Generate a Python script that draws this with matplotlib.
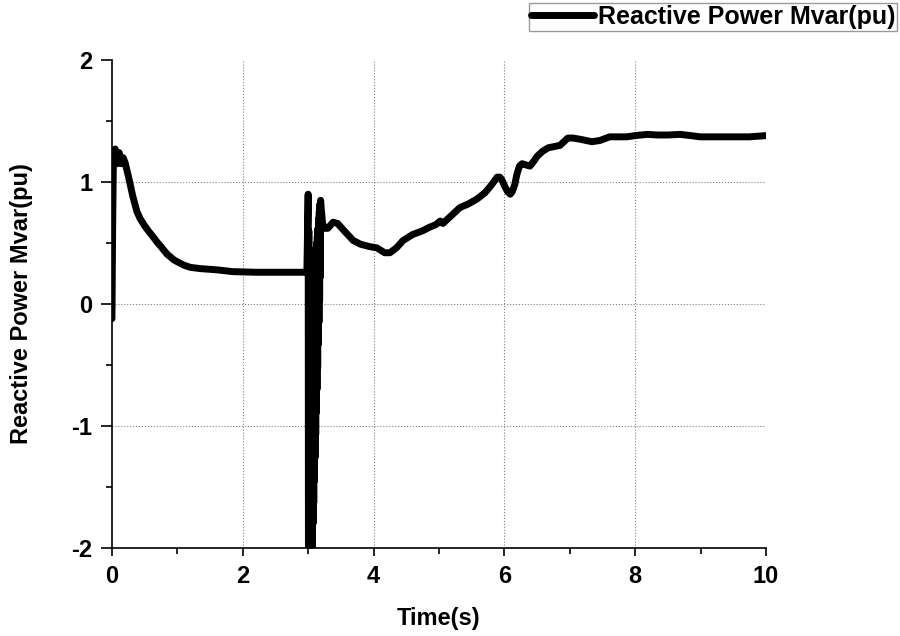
import matplotlib
matplotlib.use('Agg')
import matplotlib.pyplot as plt
import numpy as np
from matplotlib.ticker import MultipleLocator

# Reactive power trace (time in s, value in pu)
t_start = [0.0, 0.01, 0.02, 0.035, 0.05, 0.08, 0.11, 0.14, 0.17, 0.2, 0.25,
           0.32, 0.38, 0.43, 0.5, 0.57, 0.63, 0.7, 0.75, 0.84, 0.95, 1.09,
           1.2, 1.35, 1.6, 1.85, 2.2, 2.6, 2.98]
q_start = [-0.12, 0.6, 1.1, 1.25, 1.27, 1.15, 1.24, 1.15, 1.2, 1.16, 1.05,
           0.88, 0.76, 0.70, 0.64, 0.59, 0.55, 0.50, 0.47, 0.41, 0.36, 0.32,
           0.30, 0.29, 0.28, 0.265, 0.26, 0.26, 0.26]

# fault at t = 3 s: dense oscillation (peaks and troughs alternate)
t_fault = [3.0, 3.005, 3.01, 3.015, 3.02, 3.025, 3.03, 3.035, 3.04, 3.045,
           3.05, 3.055, 3.06, 3.065, 3.07, 3.075, 3.08, 3.085, 3.09, 3.095,
           3.1, 3.105, 3.11, 3.115, 3.12, 3.125, 3.13, 3.135, 3.14, 3.145,
           3.15, 3.155, 3.16, 3.165, 3.17, 3.175, 3.18, 3.185, 3.19]
q_fault = [0.90, -2.6, 0.6, -2.6, 0.45, -2.6, 0.42, -2.6, 0.42, -2.6,
           0.42, -2.6, 0.42, -2.0, 0.42, -1.8, 0.42, -1.63, 0.42, -1.45,
           0.42, -1.26, 0.42, -1.07, 0.45, -0.89, 0.5, -0.7, 0.55, -0.52,
           0.62, -0.33, 0.7, -0.15, 0.76, 0.03, 0.82, 0.22, 0.85]

t_end = [3.2, 3.22, 3.25, 3.3, 3.38, 3.45, 3.55, 3.62, 3.69, 3.8, 3.94,
         4.05, 4.17, 4.25, 4.35, 4.45, 4.6, 4.75, 4.86, 4.95, 5.02, 5.06,
         5.12, 5.2, 5.32, 5.45, 5.58, 5.7, 5.78, 5.85, 5.89, 5.93, 5.96,
         6.0, 6.05, 6.09, 6.12, 6.16, 6.19, 6.23, 6.27, 6.33, 6.39, 6.45,
         6.5, 6.58, 6.67, 6.76, 6.85, 6.91, 6.97, 7.05, 7.16, 7.25, 7.34,
         7.46, 7.61, 7.75, 7.87, 8.0, 8.18, 8.35, 8.49, 8.69, 8.85, 8.99,
         9.25, 9.5, 9.75, 10.0]
q_end = [0.78, 0.66, 0.62, 0.62, 0.67, 0.66, 0.60, 0.56, 0.52, 0.49, 0.47,
         0.46, 0.42, 0.42, 0.46, 0.52, 0.57, 0.60, 0.63, 0.65, 0.68, 0.66,
         0.69, 0.73, 0.79, 0.82, 0.86, 0.91, 0.96, 1.01, 1.04, 1.04, 1.02,
         0.97, 0.92, 0.90, 0.92, 0.98, 1.06, 1.13, 1.15, 1.14, 1.13, 1.17,
         1.21, 1.25, 1.28, 1.29, 1.30, 1.33, 1.36, 1.36, 1.35, 1.34, 1.33,
         1.34, 1.37, 1.37, 1.37, 1.38, 1.39, 1.385, 1.385, 1.39, 1.38, 1.37,
         1.37, 1.37, 1.37, 1.38]

time = t_start + t_fault + t_end
qpu = q_start + q_fault + q_end

plt.rcParams['font.family'] = ['Liberation Sans', 'DejaVu Sans']
plt.rcParams['font.weight'] = 'bold'
plt.rcParams['axes.unicode_minus'] = False
plt.rcParams['path.simplify'] = False  # keep the dense fault oscillation

fig = plt.figure(figsize=(9, 6.36), dpi=100)
ax = fig.add_axes([0.1244, 0.1384, 0.7267, 0.7673])

ax.plot(time, qpu, color='black', linewidth=5.0, solid_joinstyle='round',
        solid_capstyle='round', label='Reactive Power Mvar(pu)')

# the oscillation is so dense it renders as a solid band: fill between
# the envelope of peaks and troughs
t_hi = np.array(t_fault[0::2])
q_hi = np.array(q_fault[0::2])
q_lo = np.interp(t_hi, t_fault[1::2], q_fault[1::2])
ax.fill_between(t_hi, q_lo, q_hi, color='black', linewidth=0)

ax.set_xlim(0, 10)
ax.set_ylim(-2, 2)
ax.xaxis.set_major_locator(MultipleLocator(2))
ax.xaxis.set_minor_locator(MultipleLocator(1))
ax.yaxis.set_major_locator(MultipleLocator(1))
ax.yaxis.set_minor_locator(MultipleLocator(0.5))

# grid only at the interior ticks
for x in [2, 4, 6, 8]:
    ax.axvline(x, color='gray', linestyle=':', linewidth=0.8, zorder=0)
for y in [-1, 0, 1]:
    ax.axhline(y, color='gray', linestyle=':', linewidth=0.8, zorder=0)

for side in ['top', 'right']:
    ax.spines[side].set_visible(False)
for side in ['left', 'bottom']:
    ax.spines[side].set_linewidth(1.2)

ax.tick_params(axis='x', which='major', direction='out', length=6, width=1.2,
               labelsize=17, pad=6)
ax.tick_params(axis='y', which='major', direction='out', length=8, width=1.2,
               labelsize=17, pad=6)
ax.tick_params(which='minor', direction='out', length=4, width=1.2)
for lbl in ax.get_xticklabels() + ax.get_yticklabels():
    lbl.set_fontweight('bold')

ax.set_xlabel('Time(s)', fontsize=17, fontweight='bold')
ax.set_ylabel('Reactive Power Mvar(pu)', fontsize=17, fontweight='bold')
ax.xaxis.set_label_coords(0.5, -0.12)
ax.yaxis.set_label_coords(-0.12, 0.5)

leg = fig.legend(loc='upper right', bbox_to_anchor=(0.997, 0.996),
                 fontsize=18, frameon=True, fancybox=False, handlelength=2.5,
                 handletextpad=0.16, borderpad=0.08, borderaxespad=0)
leg.get_frame().set_edgecolor('gray')
leg.get_frame().set_linewidth(1.0)
for txt in leg.get_texts():
    txt.set_fontweight('bold')

fig.savefig('out.png', dpi=100)
